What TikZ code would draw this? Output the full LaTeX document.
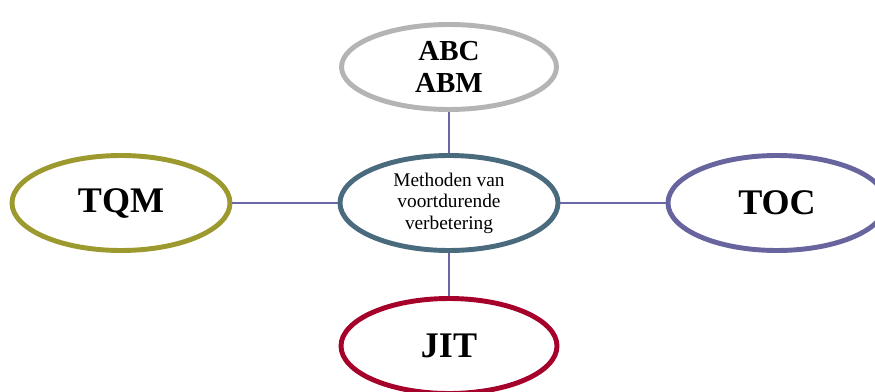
\documentclass[tikz,border=0pt]{standalone}
\usepackage{fontspec}
\setmainfont{Liberation Serif}
\usepackage{xcolor}
\usetikzlibrary{shapes.geometric}
\definecolor{abcgray}{HTML}{B4B4B4}
\definecolor{midblue}{HTML}{4A6A7E}
\definecolor{tqmolive}{HTML}{9C9A2F}
\definecolor{tocpurple}{HTML}{67649E}
\definecolor{jitred}{HTML}{A5012A}
\definecolor{linkline}{HTML}{6A67A6}

\begin{document}
\begin{tikzpicture}[
            bubble/.style={
                ellipse,
                draw,
                line width=2.8pt,
                minimum width=4.36cm,
                minimum height=1.9cm,
                inner sep=0pt,
                align=center,
                fill=white
            },
            outer/.style={bubble, font=\bfseries\fontsize{20.5}{22}\selectfont},
            hub/.style={bubble, draw=midblue, font=\fontsize{11}{12.2}\selectfont},
            link/.style={draw=linkline, line width=0.85pt}
        ]

        \useasboundingbox (0,0) rectangle (17.5,7.82);

        \node[hub] (hub) at (8.98, 3.76) {Methoden van\\voortdurende\\verbetering};
        \node[bubble, draw=abcgray, minimum width=4.3cm, minimum height=1.7cm,
              font=\bfseries\fontsize{16.5}{18.5}\selectfont] (abc) at (8.98, 6.48) {ABC\\ABM};
        \node[outer, draw=tqmolive]  (tqm) at (2.42, 3.76)  {TQM};
        \node[outer, draw=tocpurple] (toc) at (15.54, 3.76) {TOC};
        \node[outer, draw=jitred, minimum width=4.32cm] (jit) at (8.98, 0.9) {JIT};

        \draw[link] (hub) -- (abc);
        \draw[link] (hub) -- (tqm);
        \draw[link] (hub) -- (toc);
        \draw[link] (hub) -- (jit);
        \end{tikzpicture}
\end{document}
